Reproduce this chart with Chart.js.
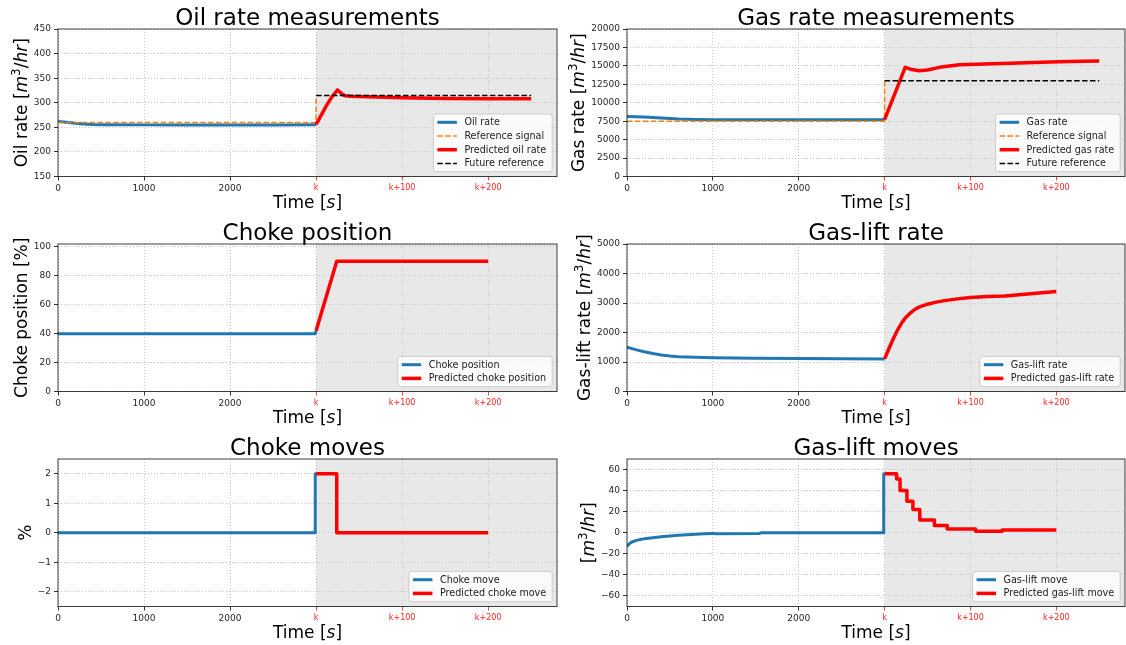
<!DOCTYPE html>
<html>
<head>
<meta charset="utf-8">
<title>MPC run: oil/gas rates, choke and gas-lift</title>
<script src="https://cdn.jsdelivr.net/npm/chart.js@4/dist/chart.umd.min.js"></script>
<style>
  body { margin: 0; background: #fff; }
  #grid { position: relative; width: 1126px; height: 645px; background: #fff; }
  #grid canvas { position: absolute; }
</style>
</head>
<body>
<div id="grid">
  <canvas id="oil" width="563" height="215" style="left:0;top:0"></canvas>
  <canvas id="gas" width="563" height="215" style="left:563px;top:0"></canvas>
  <canvas id="chokePos" width="563" height="215" style="left:0;top:215px"></canvas>
  <canvas id="liftRate" width="563" height="215" style="left:563px;top:215px"></canvas>
  <canvas id="chokeMoves" width="563" height="215" style="left:0;top:430px"></canvas>
  <canvas id="liftMoves" width="563" height="215" style="left:563px;top:430px"></canvas>
</div>
<script>
const FONT = '"DejaVu Sans", sans-serif';

// shared time axis in seconds, k is the current sample
const timeTicks = [0, 1000, 2000, 3000, 4000, 5000];
const timeTickLabels = ['0', '1000', '2000', 'k', 'k+100', 'k+200'];
const kTime = 3000;
const timeMax = 5800;

// oil rate
const oilTime = [0, 100, 200, 300, 400, 500, 700, 1000, 1500, 2000, 2500, 3000];
const oilRate = [262, 260.5, 258.5, 257, 256, 255.5, 255.2, 255, 255, 255, 255, 255.5];
const oilRefTime = [0, 3000, 3000];
const oilRef = [260, 260, 315];
const oilPredTime = [3000, 3060, 3120, 3180, 3248, 3300, 3340, 3400, 3500, 3700, 4000, 4500, 5000, 5500];
const oilPred = [256, 275, 294, 311, 326, 318, 314, 313, 312.5, 311.5, 310, 308.5, 308, 308];
const oilFutureTime = [3000, 5500];
const oilFuture = [315, 315];
const oilTicks = [150, 200, 250, 300, 350, 400, 450];

// gas rate
const gasTime = [0, 200, 400, 600, 800, 1000, 1500, 2000, 2500, 3000];
const gasRate = [8150, 8080, 7920, 7800, 7740, 7710, 7690, 7680, 7680, 7700];
const gasRefTime = [0, 3000, 3000];
const gasRef = [7500, 7500, 13000];
const gasPredTime = [3000, 3240, 3320, 3400, 3500, 3640, 3870, 4260, 4650, 5030, 5300, 5500];
const gasPred = [7700, 14800, 14500, 14350, 14450, 14800, 15150, 15300, 15420, 15560, 15640, 15650];
const gasFutureTime = [3000, 5500];
const gasFuture = [13000, 13000];
const gasTicks = [0, 2500, 5000, 7500, 10000, 12500, 15000, 17500, 20000];

// choke position
const chokeTime = [0, 2990, 3000];
const chokePos = [40, 40, 42];
const chokePredTime = [3000, 3240, 5000];
const chokePred = [42, 90, 90];
const chokeTicks = [0, 20, 40, 60, 80, 100];

// gas-lift rate
const liftTime = [0, 100, 200, 300, 400, 500, 600, 800, 1000, 1500, 2000, 2500, 3000];
const liftRate = [1500, 1420, 1350, 1290, 1240, 1205, 1180, 1160, 1145, 1125, 1115, 1110, 1105];
const liftPredTime = [3000, 3050, 3100, 3150, 3200, 3250, 3300, 3350, 3400, 3500, 3600, 3700, 3850, 4000, 4200, 4400, 4600, 4800, 5000];
const liftPred = [1105, 1450, 1780, 2080, 2330, 2520, 2660, 2780, 2860, 2960, 3030, 3080, 3140, 3190, 3220, 3240, 3290, 3340, 3390];
const liftTicks = [0, 1000, 2000, 3000, 4000, 5000];

// choke moves (each value is held from the previous sample)
const chokeMoveTime = [0, 2990, 3000];
const chokeMove = [0, 2, 2];
const chokePredMoveTime = [3000, 3240, 5000];
const chokePredMove = [2, 0, 0];
const chokeMoveTicks = [-2, -1, 0, 1, 2];

// gas-lift moves
const liftMoveTime = [0, 20, 50, 100, 150, 200, 300, 400, 500, 600, 700, 800, 900, 1000, 1030, 1540, 1560, 2990, 2990, 3000];
const liftMove = [-13, -11, -9, -7.5, -6.5, -5.8, -4.8, -3.8, -3, -2.4, -1.9, -1.5, -1, -0.6, -0.9, -0.8, 0, 0, 56, 56];
const liftPredMoveTime = [3000, 3140, 3180, 3260, 3330, 3410, 3580, 3730, 4060, 4370, 5000];
const liftPredMove = [56, 51, 40, 30, 22, 12, 7, 3.5, 1.5, 2.5, 2.5];
const liftMoveTicks = [-60, -40, -20, 0, 20, 40, 60];

const pts = (xs, ys) => xs.map((x, i) => ({ x, y: ys[i] }));
const measured = (label, xs, ys, extra) => Object.assign({ label, data: pts(xs, ys), borderColor: '#1f77b4', borderWidth: 3 }, extra);
const reference = (label, xs, ys) => ({ label, data: pts(xs, ys), borderColor: '#ff7f0e', borderWidth: 1.5, borderDash: [5.5, 2.4] });
const predicted = (label, xs, ys, extra) => Object.assign({ label, data: pts(xs, ys), borderColor: '#ff0000', borderWidth: 3.5 }, extra);
const future = (label, xs, ys) => ({ label, data: pts(xs, ys), borderColor: '#000000', borderWidth: 1.5, borderDash: [5.5, 2.4] });

// unit label pieces: [text, style] with style 'i' italic, 's' superscript
const rateUnit = [['m', 'i'], ['3', 's'], ['/', ''], ['hr', 'i']];
const fmtNum = v => (v < 0 ? '\u2212' + Math.abs(v) : String(v));

function richParts(ctx, segs, size) {
  let w = 0;
  const parts = segs.map(([t, st]) => {
    const fs = st === 's' ? size * 0.7 : size;
    const font = (st === 'i' ? 'italic ' : '') + fs + 'px ' + FONT;
    ctx.font = font;
    const pw = ctx.measureText(t).width;
    w += pw;
    return { t, font, pw, dy: st === 's' ? -size * 0.42 : 0 };
  });
  return { parts, w };
}

function drawRich(ctx, segs, size, cx, baseline) {
  const { parts, w } = richParts(ctx, segs, size);
  let x = cx - w / 2;
  ctx.textAlign = 'left';
  ctx.textBaseline = 'alphabetic';
  parts.forEach(p => {
    ctx.font = p.font;
    ctx.fillText(p.t, x, baseline + p.dy);
    x += p.pw;
  });
}

const panelPlugin = {
  id: 'panel',
  beforeDraw(chart) {
    const { ctx, chartArea: a, scales } = chart;
    const xk = scales.x.getPixelForValue(kTime);
    ctx.save();
    ctx.fillStyle = '#e8e8e8';
    ctx.fillRect(xk, a.top, a.right - xk, a.bottom - a.top);
    ctx.restore();
  },
  afterDraw(chart) {
    const { ctx, chartArea: a, scales } = chart;
    const opts = chart.options.plugins.panel;
    ctx.save();

    // axes frame
    ctx.strokeStyle = 'rgba(0,0,0,0.75)';
    ctx.lineWidth = 1;
    ctx.strokeRect(a.left, a.top, a.right - a.left, a.bottom - a.top);

    // legend, lower right inside the axes
    const sets = chart.data.datasets;
    const fs = 9.6;
    ctx.font = fs + 'px ' + FONT;
    const textW = Math.max(...sets.map(d => ctx.measureText(d.label).width));
    const boxW = 31 + textW + 6;
    const boxH = 7.7 + sets.length * 8.9 + (sets.length - 1) * 4.8;
    const right = a.right - 4.8, bottom = a.bottom - 4.8;
    const left = right - boxW, top = bottom - boxH;
    ctx.beginPath();
    ctx.roundRect(left, top, boxW, boxH, 2.5);
    ctx.fillStyle = 'rgba(255,255,255,0.8)';
    ctx.fill();
    ctx.strokeStyle = '#cccccc';
    ctx.stroke();
    sets.forEach((d, i) => {
      const y = top + 8.3 + i * 13.7;
      ctx.beginPath();
      ctx.setLineDash(d.borderDash || []);
      ctx.strokeStyle = d.borderColor;
      ctx.lineWidth = d.borderWidth;
      ctx.moveTo(left + 4, y);
      ctx.lineTo(left + 23.5, y);
      ctx.stroke();
      ctx.setLineDash([]);
      ctx.fillStyle = '#222';
      ctx.font = fs + 'px ' + FONT;
      ctx.textAlign = 'left';
      ctx.textBaseline = 'middle';
      ctx.fillText(d.label, left + 31, y + 0.5);
    });

    ctx.fillStyle = '#000';
    const cx = (a.left + a.right) / 2;

    // title
    ctx.font = '23px ' + FONT;
    ctx.textAlign = 'center';
    ctx.textBaseline = 'alphabetic';
    ctx.fillText(opts.title, cx, a.top - 4.5);

    // x axis title
    drawRich(ctx, [['Time [', ''], ['s', 'i'], [']', '']], 17, cx, a.bottom + 31);

    // y axis title, placed left of the widest tick label
    ctx.font = '9px ' + FONT;
    const labW = Math.max(...scales.y.ticks.map(t => ctx.measureText(fmtNum(t.value)).width));
    const bx = a.left - 7 - labW - 7;
    ctx.translate(bx, (a.top + a.bottom) / 2);
    ctx.rotate(-Math.PI / 2);
    drawRich(ctx, opts.yTitle, 17, 0, 0);
    ctx.restore();
  }
};

function panel(id, cfg) {
  const n = cfg.series.length;
  const datasets = cfg.series.map((s, i) => Object.assign({
    order: n - 1 - i, pointRadius: 0, fill: false, tension: 0, borderJoinStyle: 'round'
  }, s));
  const grid = {
    color: '#bdbdbd', lineWidth: 0.8, drawTicks: true, tickLength: 4, tickWidth: 1
  };
  return new Chart(document.getElementById(id), {
    type: 'line',
    data: { datasets },
    options: {
      responsive: false,
      animation: false,
      devicePixelRatio: 1,
      layout: { padding: { top: 29, right: cfg.left === 58 ? 6 : 1, left: 0, bottom: 0 } },
      plugins: {
        legend: { display: false },
        tooltip: { enabled: false },
        panel: { title: cfg.title, yTitle: cfg.yTitle }
      },
      scales: {
        x: {
          type: 'linear', min: 0, max: timeMax,
          afterBuildTicks: s => { s.ticks = timeTicks.map(v => ({ value: v })); },
          afterFit: s => { s.height = 38.5; },
          ticks: {
            autoSkip: false, maxRotation: 0, padding: 3,
            callback: v => timeTickLabels[timeTicks.indexOf(v)],
            font: c => ({ family: FONT, size: c.tick && c.tick.value >= kTime ? 8 : 9 }),
            color: c => (c.tick && c.tick.value >= kTime ? '#ff2020' : '#262626')
          },
          grid: Object.assign({}, grid, { tickColor: c => (c.tick && c.tick.value >= kTime ? '#ff4040' : '#333') }),
          border: { display: false, dash: [1, 2] }
        },
        y: {
          type: 'linear', min: cfg.yMin, max: cfg.yMax,
          afterBuildTicks: s => { s.ticks = cfg.yTicks.map(v => ({ value: v })); },
          afterFit: s => { s.width = cfg.left; },
          ticks: { padding: 3, callback: v => fmtNum(v), font: { family: FONT, size: 9 }, color: '#262626' },
          grid: Object.assign({}, grid, { tickColor: '#333' }),
          border: { display: false, dash: [1, 2] }
        }
      }
    },
    plugins: [panelPlugin]
  });
}

panel('oil', {
  title: 'Oil rate measurements', left: 58,
  yTitle: [['Oil rate [', '']].concat(rateUnit, [[']', '']]),
  yMin: 150, yMax: 450, yTicks: oilTicks,
  series: [
    measured('Oil rate', oilTime, oilRate),
    reference('Reference signal', oilRefTime, oilRef),
    predicted('Predicted oil rate', oilPredTime, oilPred),
    future('Future reference', oilFutureTime, oilFuture)
  ]
});

panel('gas', {
  title: 'Gas rate measurements', left: 64,
  yTitle: [['Gas rate [', '']].concat(rateUnit, [[']', '']]),
  yMin: 0, yMax: 20000, yTicks: gasTicks,
  series: [
    measured('Gas rate', gasTime, gasRate),
    reference('Reference signal', gasRefTime, gasRef),
    predicted('Predicted gas rate', gasPredTime, gasPred),
    future('Future reference', gasFutureTime, gasFuture)
  ]
});

panel('chokePos', {
  title: 'Choke position', left: 58,
  yTitle: [['Choke position [%]', '']],
  yMin: 0, yMax: 102, yTicks: chokeTicks,
  series: [
    measured('Choke position', chokeTime, chokePos),
    predicted('Predicted choke position', chokePredTime, chokePred)
  ]
});

panel('liftRate', {
  title: 'Gas-lift rate', left: 64,
  yTitle: [['Gas-lift rate [', '']].concat(rateUnit, [[']', '']]),
  yMin: 0, yMax: 5000, yTicks: liftTicks,
  series: [
    measured('Gas-lift rate', liftTime, liftRate),
    predicted('Predicted gas-lift rate', liftPredTime, liftPred)
  ]
});

// Chart.js 'before' steps hold the previous value up to the next sample
panel('chokeMoves', {
  title: 'Choke moves', left: 58,
  yTitle: [['%', '']],
  yMin: -2.5, yMax: 2.5, yTicks: chokeMoveTicks,
  series: [
    measured('Choke move', chokeMoveTime, chokeMove, { stepped: 'before' }),
    predicted('Predicted choke move', chokePredMoveTime, chokePredMove, { stepped: 'before' })
  ]
});

panel('liftMoves', {
  title: 'Gas-lift moves', left: 64,
  yTitle: [['[', '']].concat(rateUnit, [[']', '']]),
  yMin: -70, yMax: 70, yTicks: liftMoveTicks,
  series: [
    measured('Gas-lift move', liftMoveTime, liftMove),
    predicted('Predicted gas-lift move', liftPredMoveTime, liftPredMove, { stepped: 'before' })
  ]
});
</script>
</body>
</html>
